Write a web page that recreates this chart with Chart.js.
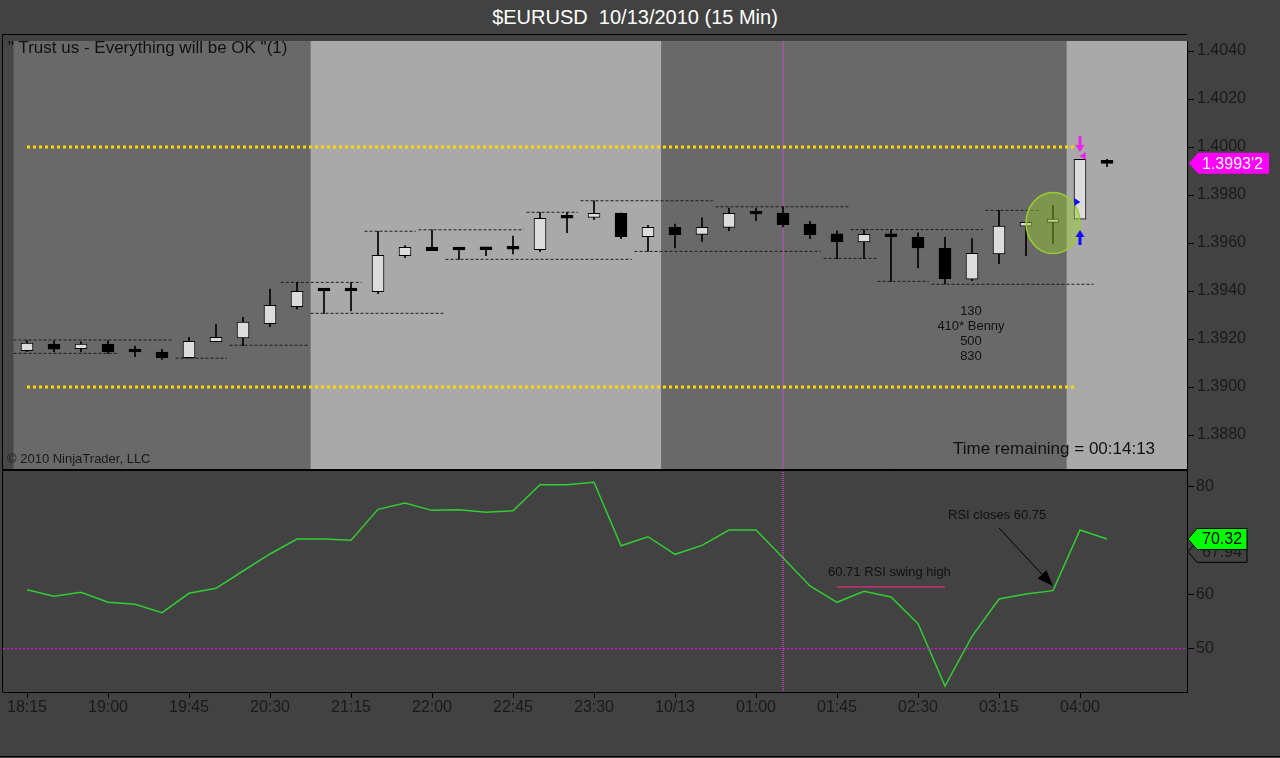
<!DOCTYPE html>
<html>
<head>
<meta charset="utf-8">
<title>$EURUSD 10/13/2010 (15 Min)</title>
<script src="https://cdn.jsdelivr.net/npm/chart.js@4.4.0/dist/chart.umd.min.js"></script>
<style>
  body { margin: 0; background: #424242; width: 1280px; height: 758px; overflow: hidden; position: relative;
         font-family: "Liberation Sans", Arial, sans-serif; }
  #title { position: absolute; left: 0; top: 6px; width: 1270px; text-align: center; color: #fff;
           font-size: 20px; line-height: 22px; white-space: pre; }
  #upper { position: absolute; left: 0; top: 34px; }
  #lower { position: absolute; left: 0; top: 470px; }
  .t { position: absolute; color: #111; white-space: pre; }
</style>
</head>
<body>
<div id="title">$EURUSD  10/13/2010 (15 Min)</div>
<canvas id="upper" width="1280" height="436"></canvas>
<canvas id="lower" width="1280" height="288"></canvas>

<div class="t" style="left:8px;top:38px;font-size:17px;line-height:20px;">" Trust us - Everything will be OK "(1)</div>
<div class="t" style="left:7px;top:451px;font-size:13px;line-height:15px;color:#1a1a1a;">© 2010 NinjaTrader, LLC</div>
<div class="t" style="left:953px;top:439px;font-size:17px;line-height:20px;">Time remaining = 00:14:13</div>
<div class="t" style="left:921px;top:303px;width:100px;text-align:center;font-size:13px;line-height:15px;">130
410* Benny
500
830</div>
<div class="t" style="left:948px;top:507px;font-size:13px;line-height:16px;">RSI closes 60.75</div>
<div class="t" style="left:828px;top:564px;font-size:13px;line-height:16px;">60.71 RSI swing high</div>

<script>
// 15 min bars, 18:15 -> 04:15
const timeLabels = ["18:15", "19:00", "19:45", "20:30", "21:15", "22:00", "22:45",
                    "23:30", "10/13", "01:00", "01:45", "02:30", "03:15", "04:00"];
const labelEvery = 3;

const opens  = [1.39151,1.39179,1.39160,1.39179,1.39148,1.39145,1.39122,1.39189,1.39205,1.39264,
                1.39335,1.39402,1.39401,1.39397,1.39547,1.39583,1.39573,1.39573,1.39575,1.39572,
                1.39705,1.39707,1.39725,1.39626,1.39665,1.39636,1.39665,1.39723,1.39725,1.39679,
                1.39638,1.39605,1.39638,1.39624,1.39578,1.39449,1.39555,1.39670,1.39686,1.39699,
                1.39943];
const highs  = [1.39193,1.39193,1.39188,1.39193,1.39171,1.39157,1.39207,1.39260,1.39290,1.39408,
                1.39436,1.39408,1.39436,1.39649,1.39589,1.39655,1.39582,1.39579,1.39629,1.39728,
                1.39728,1.39776,1.39725,1.39674,1.39679,1.39705,1.39746,1.39746,1.39751,1.39690,
                1.39651,1.39655,1.39655,1.39642,1.39624,1.39618,1.39736,1.39686,1.39757,1.39949,
                1.39949];
const lows   = [1.39147,1.39146,1.39146,1.39140,1.39126,1.39115,1.39120,1.39189,1.39172,1.39251,
                1.39325,1.39307,1.39317,1.39389,1.39539,1.39568,1.39532,1.39547,1.39555,1.39564,
                1.39643,1.39697,1.39618,1.39565,1.39580,1.39607,1.39651,1.39693,1.39667,1.39618,
                1.39535,1.39535,1.39440,1.39496,1.39429,1.39443,1.39514,1.39547,1.39596,1.39699,
                1.39918];
const closes = [1.39183,1.39158,1.39179,1.39146,1.39146,1.39122,1.39190,1.39207,1.39270,1.39340,
                1.39399,1.39400,1.39400,1.39549,1.39582,1.39568,1.39571,1.39572,1.39574,1.39703,
                1.39703,1.39724,1.39626,1.39665,1.39635,1.39665,1.39724,1.39721,1.39676,1.39635,
                1.39605,1.39636,1.39626,1.39580,1.39451,1.39557,1.39670,1.39686,1.39700,1.39949,
                1.39932];

const rsi = [60.93,59.70,60.44,58.59,58.22,56.67,60.26,61.19,64.39,67.54,
             70.31,70.31,70.07,75.81,76.98,75.62,75.74,75.25,75.56,80.37,
             80.37,80.81,69.07,70.74,67.48,69.14,71.98,71.98,66.85,61.61,
             58.59,60.63,59.57,54.63,43.09,52.28,59.20,60.13,60.75,71.98,
             70.32];
const rsiAvgLast = 67.94;

// swing lines: [from bar, to bar, price]
const swingLines = [
  [-0.5, 5.4, 1.39196], [-0.5, 3.4, 1.39140], [5.5, 7.4, 1.39120], [7.5, 10.4, 1.39174],
  [9.4, 12.4, 1.39436], [10.5, 15.5, 1.39307], [12.5, 14.4, 1.39649], [14.5, 18.4, 1.39655],
  [15.5, 22.4, 1.39532], [18.5, 20.4, 1.39728], [20.5, 25.4, 1.39776], [22.5, 29.4, 1.39565],
  [25.5, 30.5, 1.39751], [29.5, 31.5, 1.39536], [30.5, 35.4, 1.39656], [31.5, 33.4, 1.39440],
  [33.5, 39.5, 1.39428], [35.5, 37.5, 1.39736]
];
const levels = [1.4000, 1.3900];
const levelSpan = [0, 38.8];
const sessionBreaks = [-0.5, 10.5, 23.5, 38.5];
const markerBar = 28;
const priceTicks = [1.3880, 1.3900, 1.3920, 1.3940, 1.3960, 1.3980, 1.4000, 1.4020, 1.4040];
const rsiTicks = [50, 60, 80];
const rsiSwingHigh = [30, 34, 61.43];
const rsiArrow = [36.0, 72.35, 38.0, 61.6];
const circleAt = [38, 1.39683];
const signals = [ // bar, price, kind
  [39, 1.39979, "downArrow"], [39.1, 1.39963, "leftTri"],
  [38.9, 1.39771, "rightTri"], [39, 1.39654, "upArrow"]
];

const xMin = -24 / 27, xMax = 1160 / 27;
const FONT = "'Liberation Sans', Arial, sans-serif";

function tag(ctx, xTip, yc, xEnd, h, fill, stroke) {
  ctx.beginPath();
  ctx.moveTo(xTip, yc);
  ctx.lineTo(xTip + 9, yc - h / 2);
  ctx.lineTo(xEnd, yc - h / 2);
  ctx.lineTo(xEnd, yc + h / 2);
  ctx.lineTo(xTip + 9, yc + h / 2);
  ctx.closePath();
  ctx.fillStyle = fill;
  ctx.fill();
  if (stroke) { ctx.strokeStyle = stroke; ctx.lineWidth = 1; ctx.stroke(); }
}

function vline(chart, color, width, dash) {
  const {ctx, chartArea: a, scales: {x}} = chart;
  const px = Math.round(x.getPixelForValue(markerBar));
  ctx.save();
  ctx.strokeStyle = color;
  ctx.lineWidth = width;
  ctx.setLineDash(dash);
  ctx.beginPath();
  ctx.moveTo(px, a.top);
  ctx.lineTo(px, a.bottom);
  ctx.stroke();
  ctx.restore();
}

const upperDecor = {
  id: "upperDecor",
  beforeDraw(chart) {
    const {ctx, chartArea: a, scales: {x}} = chart;
    ctx.save();
    ctx.fillStyle = "#474747";
    ctx.fillRect(a.left, a.top, a.right - a.left, a.bottom - a.top);
    sessionBreaks.forEach((b, i) => {
      const x0 = x.getPixelForValue(b);
      const x1 = x.getPixelForValue(i + 1 < sessionBreaks.length ? sessionBreaks[i + 1] : x.max);
      ctx.fillStyle = i % 2 ? "#a9a9a9" : "#696969";
      ctx.fillRect(x0, a.top, x1 - x0, a.bottom - a.top);
    });
    ctx.restore();
  },
  beforeDatasetsDraw(chart) {
    vline(chart, "rgba(190,80,190,0.7)", 1.5, []);
  },
  afterDatasetsDraw(chart) {
    const {ctx, chartArea: a, scales: {x, y}} = chart;
    ctx.save();
    // highlight circle
    ctx.beginPath();
    ctx.ellipse(x.getPixelForValue(circleAt[0]), y.getPixelForValue(circleAt[1]), 27, 30.5, 0, 0, Math.PI * 2);
    ctx.fillStyle = "rgba(154,205,50,0.45)";
    ctx.fill();
    ctx.strokeStyle = "#9acd32";
    ctx.lineWidth = 1.5;
    ctx.stroke();
    // signal arrows
    signals.forEach(([b, p, kind]) => {
      const px = x.getPixelForValue(b), py = y.getPixelForValue(p);
      ctx.beginPath();
      if (kind === "downArrow") {
        ctx.fillStyle = "#f020f0";
        ctx.fillRect(px - 1.5, py - 16, 3, 10);
        ctx.moveTo(px - 4.5, py - 7); ctx.lineTo(px + 4.5, py - 7); ctx.lineTo(px, py);
      } else if (kind === "upArrow") {
        ctx.fillStyle = "#1010ff";
        ctx.fillRect(px - 1.5, py + 6, 3, 9);
        ctx.moveTo(px - 4.5, py + 7); ctx.lineTo(px + 4.5, py + 7); ctx.lineTo(px, py);
      } else if (kind === "leftTri") {
        ctx.fillStyle = "#f020f0";
        ctx.moveTo(px + 3, py - 4); ctx.lineTo(px + 3, py + 4); ctx.lineTo(px - 3, py);
      } else {
        ctx.fillStyle = "#1010ff";
        ctx.moveTo(px - 3, py - 4); ctx.lineTo(px - 3, py + 4); ctx.lineTo(px + 3, py);
      }
      ctx.closePath();
      ctx.fill();
    });
    // frame
    ctx.strokeStyle = "#000";
    ctx.lineWidth = 1;
    ctx.beginPath();
    ctx.moveTo(2.5, a.bottom + 0.5); ctx.lineTo(2.5, 0.5); ctx.lineTo(a.right, 0.5);
    ctx.moveTo(2, a.bottom + 0.5); ctx.lineTo(a.right, a.bottom + 0.5);
    ctx.stroke();
    // last price tag
    const last = closes[closes.length - 1];
    const s = last.toFixed(5);
    const yc = y.getPixelForValue(last);
    tag(ctx, a.right + 2, yc, 1269, 21, "#ff00ff");
    ctx.fillStyle = "#fff";
    ctx.font = "16px " + FONT;
    ctx.textBaseline = "middle";
    ctx.fillText(s.slice(0, 6) + "'" + s.slice(6), 1202, yc + 1);
    ctx.restore();
  }
};

const lowerDecor = {
  id: "lowerDecor",
  afterDatasetsDraw(chart) {
    const {ctx, chartArea: a, scales: {x, y}} = chart;
    vline(chart, "#d040d0", 1.5, [1, 1]);
    ctx.save();
    // arrow
    const x0 = x.getPixelForValue(rsiArrow[0]), y0 = y.getPixelForValue(rsiArrow[1]);
    const x1 = x.getPixelForValue(rsiArrow[2]), y1 = y.getPixelForValue(rsiArrow[3]);
    const ang = Math.atan2(y1 - y0, x1 - x0);
    const bx = x1 - 16 * Math.cos(ang), by = y1 - 16 * Math.sin(ang);
    ctx.strokeStyle = "#000";
    ctx.lineWidth = 1;
    ctx.beginPath(); ctx.moveTo(x0, y0); ctx.lineTo(bx, by); ctx.stroke();
    ctx.beginPath();
    ctx.moveTo(x1, y1);
    ctx.lineTo(bx + 6 * Math.sin(ang), by - 6 * Math.cos(ang));
    ctx.lineTo(bx - 6 * Math.sin(ang), by + 6 * Math.cos(ang));
    ctx.closePath();
    ctx.fillStyle = "#000";
    ctx.fill();
    // frame
    ctx.beginPath();
    ctx.moveTo(2.5, a.bottom); ctx.lineTo(2.5, 0.5); ctx.lineTo(a.right, 0.5);
    ctx.moveTo(0, chart.height - 1.5); ctx.lineTo(chart.width, chart.height - 1.5);
    ctx.stroke();
    // value tags
    ctx.font = "16px " + FONT;
    ctx.textBaseline = "middle";
    const ya = y.getPixelForValue(rsiAvgLast);
    tag(ctx, a.right + 1, ya, 1247, 21, "#424242", "#000");
    ctx.fillStyle = "#1a1a1a";
    ctx.fillText(rsiAvgLast.toFixed(2), 1202, ya + 1);
    const lastRsi = rsi[rsi.length - 1];
    const yr = y.getPixelForValue(lastRsi);
    tag(ctx, a.right + 1, yr, 1247, 21, "#00ff00", "#000");
    ctx.fillStyle = "#000";
    ctx.fillText(lastRsi.toFixed(2), 1202, yr + 1);
    ctx.restore();
  }
};

const axisFont = {family: FONT, size: 16};

new Chart(document.getElementById("upper"), {
  type: "bar",
  data: {
    datasets: [
      {
        type: "line",
        data: swingLines.flatMap(([a, b, p]) => [{x: a, y: p}, {x: b, y: p}, {x: b, y: null}]),
        borderColor: "#1e1e1e", borderWidth: 1, borderDash: [3, 2],
        pointRadius: 0, spanGaps: false, order: 4
      },
      {
        type: "line",
        data: levels.flatMap(p => [{x: levelSpan[0], y: p}, {x: levelSpan[1], y: p}, {x: levelSpan[1], y: null}]),
        borderColor: "#ffd700", borderWidth: 3, borderDash: [3, 3],
        pointRadius: 0, spanGaps: false, order: 3
      },
      {
        data: closes.map((c, i) => ({x: i, y: [lows[i], highs[i]]})),
        backgroundColor: "#000", barThickness: 1, grouped: false, order: 2
      },
      {
        data: closes.map((c, i) => ({x: i, y: [opens[i], c]})),
        backgroundColor: ctx => closes[ctx.dataIndex] >= opens[ctx.dataIndex] ? "#dcdcdc" : "#000",
        borderColor: "#000", borderWidth: 1, borderSkipped: false,
        barThickness: 12, minBarLength: 3, grouped: false, order: 1
      }
    ]
  },
  options: {
    responsive: false, animation: false, events: [],
    layout: {padding: {left: 3, top: 7, bottom: 1, right: 0}},
    plugins: {legend: {display: false}, tooltip: {enabled: false}},
    scales: {
      x: {type: "linear", min: xMin, max: xMax, offset: false, display: false},
      y: {
        position: "right", min: 1.4 - 322 / 24000, max: 1.4 + 106 / 24000,
        afterFit(s) { s.width = 93; s.paddingTop = 0; s.paddingBottom = 0; },
        afterBuildTicks(s) { s.ticks = priceTicks.map(v => ({value: v})); },
        ticks: {color: "#1a1a1a", font: axisFont, padding: 3, callback: v => v.toFixed(4)},
        grid: {drawOnChartArea: false, tickLength: 7, color: "#000"},
        border: {color: "#000"}
      }
    }
  },
  plugins: [upperDecor]
});

new Chart(document.getElementById("lower"), {
  type: "line",
  data: {
    datasets: [
      {
        data: [{x: xMin, y: 50}, {x: xMax, y: 50}],
        borderColor: "#ff00ff", borderWidth: 1, borderDash: [2, 2], pointRadius: 0
      },
      {
        data: [{x: rsiSwingHigh[0], y: rsiSwingHigh[2]}, {x: rsiSwingHigh[1], y: rsiSwingHigh[2]}],
        borderColor: "#ff2a8a", borderWidth: 1, pointRadius: 0
      },
      {
        data: rsi.map((v, i) => ({x: i, y: v})),
        borderColor: "#32cd32", borderWidth: 1.5, pointRadius: 0, tension: 0
      }
    ]
  },
  options: {
    responsive: false, animation: false, events: [],
    layout: {padding: {left: 3, top: 0, bottom: 0, right: 0}},
    plugins: {legend: {display: false}, tooltip: {enabled: false}},
    scales: {
      x: {
        type: "linear", min: xMin, max: xMax,
        afterFit(s) { s.height = 66; s.paddingLeft = 0; s.paddingRight = 0; },
        afterBuildTicks(s) { s.ticks = timeLabels.map((t, i) => ({value: i * labelEvery})); },
        ticks: {color: "#1a1a1a", font: axisFont, padding: 0, maxRotation: 0, autoSkip: false,
                callback: v => timeLabels[Math.round(v / labelEvery)]},
        grid: {drawOnChartArea: false, tickLength: 6, color: "#000"},
        border: {color: "#000"}
      },
      y: {
        position: "right", min: 80 - 222 / 5.4 + 16.7 / 5.4, max: 80 + 16.7 / 5.4,
        afterFit(s) { s.width = 93; s.paddingTop = 0; s.paddingBottom = 0; },
        afterBuildTicks(s) { s.ticks = rsiTicks.map(v => ({value: v})); },
        ticks: {color: "#1a1a1a", font: axisFont, padding: 2},
        grid: {drawOnChartArea: false, tickLength: 7, color: "#000"},
        border: {color: "#000"}
      }
    }
  },
  plugins: [lowerDecor]
});
</script>
</body>
</html>
